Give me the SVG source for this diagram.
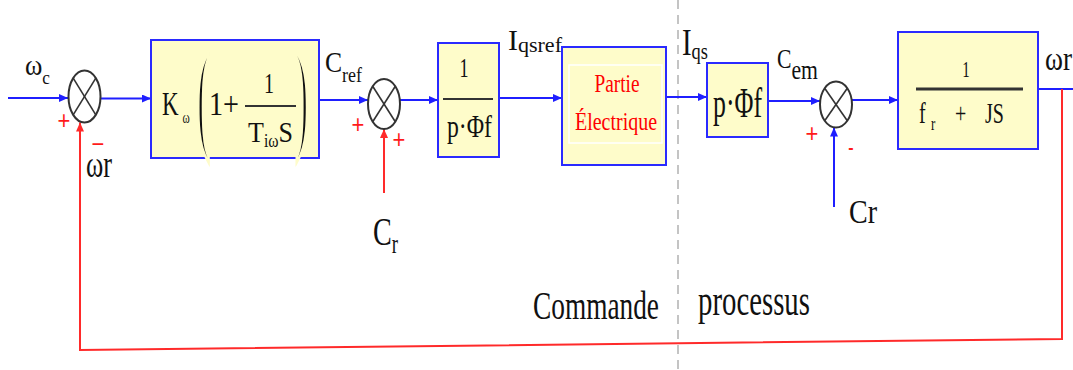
<svg xmlns="http://www.w3.org/2000/svg" width="1073" height="370" viewBox="0 0 1073 370">
<style>
.t{font-family:"Liberation Serif","Times New Roman",serif;fill:#111}
.r{fill:#ff0000}
.pm{font-family:"Liberation Sans",Arial,sans-serif;fill:#ff1a1a}
.blk{fill:#fefcca;stroke:#2a2aff;stroke-width:2}
.sum{fill:#fff;stroke:#333;stroke-width:2}
.x{stroke:#333;stroke-width:1.6}
.frac{stroke:#333;stroke-width:2}
.bl{fill:none;stroke:#1f1fff;stroke-width:2}
.rd{fill:none;stroke:#ff2a2a;stroke-width:2}
.par{stroke:#fefcca;stroke-width:1.5}
</style>
<defs>
<marker id="ab" markerUnits="userSpaceOnUse" markerWidth="10" markerHeight="8" refX="9" refY="4" orient="auto"><path d="M0,0 L9,4 L0,8 z" fill="#1f1fff"/></marker>
<marker id="ar" markerUnits="userSpaceOnUse" markerWidth="10" markerHeight="8" refX="9" refY="4" orient="auto"><path d="M0,0 L9,4 L0,8 z" fill="#ff2a2a"/></marker>
</defs>
<rect width="1073" height="370" fill="#fff"/>
<line x1="678" y1="0" x2="678" y2="370" stroke="#c4c4c4" stroke-width="2" stroke-dasharray="9 6"/>

<g id="connectors">
<path class="bl" d="M8,98 H68" marker-end="url(#ab)"/>
<path class="bl" d="M101,98.5 H151" marker-end="url(#ab)"/>
<path class="bl" d="M319,100 H368" marker-end="url(#ab)"/>
<path class="bl" d="M400,100 H438" marker-end="url(#ab)"/>
<path class="bl" d="M499,98 H562" marker-end="url(#ab)"/>
<path class="bl" d="M666,97 H707" marker-end="url(#ab)"/>
<path class="bl" d="M768,101 H820" marker-end="url(#ab)"/>
<path class="bl" d="M852,100 H898" marker-end="url(#ab)"/>
<path class="bl" d="M1038,89 H1073"/>
<path class="rd" d="M384,193 V129" marker-end="url(#ar)"/>
<path class="bl" d="M834,207 V127.5" marker-end="url(#ab)"/>
<path class="rd" d="M1062,89 V339 L80,350 V122.5" marker-end="url(#ar)"/>
</g>

<g id="sum1">
<ellipse class="sum" cx="84.5" cy="96.5" rx="16" ry="26"/>
<line class="x" x1="73.2" y1="78.1" x2="95.8" y2="114.9"/>
<line class="x" x1="95.8" y1="78.1" x2="73.2" y2="114.9"/>
</g>

<g id="block1">
<rect class="blk" x="151" y="40" width="168" height="118"/>
<text class="t" transform="translate(0,115) scale(1,1.5)" x="162" font-size="23">K<tspan font-size="11" dx="4" dy="5.3">ω</tspan></text>
<text class="t par" transform="translate(0,137) scale(1,3.05)" x="197" font-size="40">(</text>
<text class="t par" transform="translate(0,137) scale(1,3.05)" x="295" font-size="40">)</text>
<text class="t" transform="translate(0,115) scale(1,1.5)" x="209" font-size="23" textLength="30" lengthAdjust="spacingAndGlyphs">1+</text>
<text class="t" transform="translate(0,93) scale(1,1.5)" x="269" font-size="20" text-anchor="middle">1</text>
<line class="frac" x1="245" y1="106" x2="296" y2="106"/>
<text class="t" transform="translate(0,142) scale(1,1.5)" x="248" font-size="20" textLength="45" lengthAdjust="spacingAndGlyphs">T<tspan font-size="12" dy="3.3">iω</tspan><tspan font-size="20" dy="-3.3">S</tspan></text>
</g>

<g id="sum2">
<ellipse class="sum" cx="384" cy="104" rx="16" ry="25"/>
<line class="x" x1="372.7" y1="86.3" x2="395.3" y2="121.7"/>
<line class="x" x1="395.3" y1="86.3" x2="372.7" y2="121.7"/>
</g>

<g id="block2">
<rect class="blk" x="438" y="43" width="61" height="114"/>
<text class="t" transform="translate(0,77) scale(1,1.5)" x="464" font-size="18" text-anchor="middle">1</text>
<line class="frac" x1="443" y1="99" x2="493" y2="99"/>
<text class="t" transform="translate(0,137) scale(1,1.5)" x="447" font-size="21" textLength="45" lengthAdjust="spacingAndGlyphs">p·Φf</text>
</g>

<g id="block3">
<rect class="blk" x="562" y="47" width="104" height="118"/>
<rect x="569" y="65" width="93" height="78" fill="none" stroke="#ffffff" stroke-width="1.5"/>
<text class="t r" transform="translate(0,92) scale(1,1.5)" x="617" font-size="17" text-anchor="middle" textLength="45" lengthAdjust="spacingAndGlyphs">Partie</text>
<text class="t r" transform="translate(0,130) scale(1,1.5)" x="616" font-size="17" text-anchor="middle" textLength="82" lengthAdjust="spacingAndGlyphs">Électrique</text>
</g>

<g id="block4">
<rect class="blk" x="707" y="63" width="61" height="74"/>
<text class="t" transform="translate(0,117) scale(1,1.5)" x="713" font-size="28" textLength="49" lengthAdjust="spacingAndGlyphs">p·Φf</text>
</g>

<g id="sum3">
<ellipse class="sum" cx="836" cy="104.5" rx="16" ry="23"/>
<line class="x" x1="824.7" y1="88.2" x2="847.3" y2="120.8"/>
<line class="x" x1="847.3" y1="88.2" x2="824.7" y2="120.8"/>
</g>

<g id="block5">
<rect class="blk" x="898" y="32" width="140" height="117"/>
<text class="t" transform="translate(0,77) scale(1,1.5)" x="966" font-size="15" text-anchor="middle">1</text>
<line x1="916" y1="89" x2="1023" y2="89" stroke="#333" stroke-width="3"/>
<text class="t" transform="translate(0,123) scale(1,1.5)" font-size="20"><tspan x="919">f</tspan><tspan x="931" font-size="13" dy="4.7">r</tspan><tspan x="955" dy="-4.7">+</tspan><tspan x="985">JS</tspan></text>
</g>

<g id="labels">
<text class="t" transform="translate(0,75) scale(1,1.5)" x="25" font-size="20" textLength="25" lengthAdjust="spacingAndGlyphs">ω<tspan font-size="13" dy="6">c</tspan></text>
<text class="t" transform="translate(0,177) scale(1,1.5)" x="86" font-size="25" textLength="26" lengthAdjust="spacingAndGlyphs">ωr</text>
<text class="pm" transform="translate(0,129) scale(1,1.2)" x="64" font-size="22" text-anchor="middle">+</text>
<text class="pm" transform="translate(0,153) scale(1,1.2)" x="98" font-size="22" text-anchor="middle">−</text>
<text class="t" transform="translate(0,72) scale(1,1.5)" x="325" font-size="20" textLength="37" lengthAdjust="spacingAndGlyphs">C<tspan font-size="14" dy="6.7">ref</tspan></text>
<text class="pm" transform="translate(0,133) scale(1,1.2)" x="358" font-size="22" text-anchor="middle">+</text>
<text class="pm" transform="translate(0,148) scale(1,1.2)" x="399" font-size="22" text-anchor="middle">+</text>
<text class="t" transform="translate(0,245) scale(1,1.5)" x="373" font-size="27" textLength="25" lengthAdjust="spacingAndGlyphs">C<tspan font-size="18" dy="5.3">r</tspan></text>
<text class="t" transform="translate(0,50) scale(1,1.5)" x="508" font-size="19" textLength="54" lengthAdjust="spacingAndGlyphs">I<tspan font-size="14" dy="1.3">qsref</tspan></text>
<text class="t" transform="translate(0,55) scale(1,1.5)" x="682" font-size="25" textLength="26" lengthAdjust="spacingAndGlyphs">I<tspan font-size="16" dy="2.7">qs</tspan></text>
<text class="t" transform="translate(0,68) scale(1,1.5)" x="777" font-size="18" textLength="41" lengthAdjust="spacingAndGlyphs">C<tspan dy="7.3">em</tspan></text>
<text class="pm" transform="translate(0,142) scale(1,1.2)" x="812" font-size="22" text-anchor="middle">+</text>
<text class="pm" transform="translate(0,152.5)" x="851" font-size="16" font-weight="bold" text-anchor="middle">-</text>
<text class="t" transform="translate(0,223) scale(1,1.5)" x="849" font-size="23" textLength="28" lengthAdjust="spacingAndGlyphs">Cr</text>
<text class="t" transform="translate(0,70) scale(1,1.5)" x="1045" font-size="22" textLength="27" lengthAdjust="spacingAndGlyphs">ωr</text>
<text class="t" transform="translate(0,319) scale(1,1.5)" x="533" font-size="27" textLength="126" lengthAdjust="spacingAndGlyphs">Commande</text>
<text class="t" transform="translate(0,315) scale(1,1.5)" x="698" font-size="30" textLength="112" lengthAdjust="spacingAndGlyphs">processus</text>
</g>
</svg>
